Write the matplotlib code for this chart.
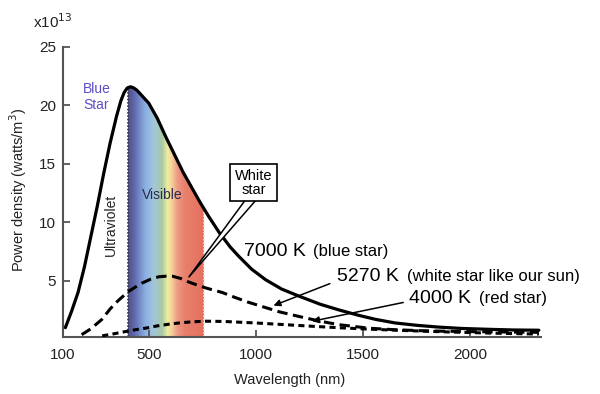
import numpy as np
import matplotlib
matplotlib.use("Agg")
import matplotlib.pyplot as plt
from matplotlib.colors import LinearSegmentedColormap
from matplotlib.patches import Polygon

plt.rcParams['font.family'] = ['Liberation Sans', 'DejaVu Sans']

# curves (wavelength nm, power density x1e13 W/m^3)
wl_7000 = [111, 140, 170, 200, 230, 260, 290, 320, 350, 370, 385, 400, 415, 430, 445,
           460, 500, 540, 580, 620, 660, 700, 740, 780, 830, 880, 920, 980, 1045, 1120,
           1200, 1300, 1390, 1480, 1560, 1650, 1750, 1850, 1960, 2100, 2200, 2320]
pd_7000 = [1.0, 2.4, 4.0, 6.2, 8.8, 11.4, 14.2, 16.8, 19.1, 20.4, 21.1, 21.5, 21.6,
           21.5, 21.3, 21.0, 20.2, 18.9, 17.3, 15.8, 14.3, 13.0, 11.7, 10.5, 9.1, 7.9,
           7.1, 6.0, 5.1, 4.3, 3.7, 3.0, 2.5, 2.05, 1.7, 1.4, 1.2, 1.05, 0.93, 0.85,
           0.8, 0.78]

wl_5270 = [187, 230, 281, 320, 345, 375, 406, 440, 467, 510, 547, 580, 610, 650,
           687, 725, 765, 844, 900, 960, 1030, 1110, 1202, 1300, 1389, 1528, 1650,
           1800, 2000, 2200, 2320]
pd_5270 = [0.4, 0.9, 1.7, 2.6, 3.1, 3.6, 4.1, 4.5, 4.8, 5.15, 5.35, 5.4, 5.4, 5.2,
           4.9, 4.65, 4.4, 4.0, 3.6, 3.2, 2.8, 2.35, 1.95, 1.55, 1.25, 0.95, 0.82,
           0.72, 0.66, 0.62, 0.6]

wl_4000 = [283, 330, 393, 440, 487, 540, 596, 650, 704, 767, 850, 1000, 1140, 1280,
           1400, 1528, 1700, 1900, 2100, 2320]
pd_4000 = [0.3, 0.45, 0.67, 0.83, 0.96, 1.15, 1.3, 1.42, 1.5, 1.55, 1.53, 1.4, 1.25,
           1.1, 0.98, 0.87, 0.75, 0.63, 0.53, 0.45]

visible = (405, 758)
spec_stops = [(0.0, '#4f4f84'), (0.10, '#6470b4'), (0.23, '#8cb0e2'), (0.34, '#a2c6da'),
              (0.45, '#aac8a4'), (0.52, '#eeee9e'), (0.57, '#f6d49e'), (0.65, '#ee9a84'),
              (0.75, '#e8806c'), (1.0, '#e47060')]

xticks = [100, 500, 1000, 1500, 2000]
yticks = [5, 10, 15, 20, 25]

fig = plt.figure(figsize=(6, 3.94), dpi=100)
ax = fig.add_axes([63 / 600, 1 - 337 / 394, 478 / 600, 290 / 394])
ax.set_xlim(100, 2330)
ax.set_ylim(0.2, 25)

# visible spectrum under the 7000 K curve
cmap = LinearSegmentedColormap.from_list('spec', spec_stops)
grad = np.linspace(0, 1, 256).reshape(1, -1)
im = ax.imshow(grad, cmap=cmap, aspect='auto', extent=[visible[0], visible[1], 0.2, 25],
               zorder=1)
clip = ax.fill_between(wl_7000, 0.2, pd_7000, facecolor='none', edgecolor='none')
im.set_clip_path(clip.get_paths()[0], transform=ax.transData)
top_l = np.interp(visible[0], wl_7000, pd_7000)
top_r = np.interp(visible[1], wl_7000, pd_7000)
ax.vlines(visible[0], 0.2, top_l, colors='#33334a', linestyles=(0, (1, 1)), lw=1.2, zorder=2)
ax.vlines(visible[1], 0.2, top_r, colors='#f4e4e0', linestyles=(0, (1, 1)), lw=1.2, zorder=2)

ax.plot(wl_7000, pd_7000, color='black', lw=2.3, zorder=4, solid_capstyle='round')
ax.plot(wl_5270, pd_5270, color='black', lw=2.2, ls=(0, (3.4, 1.8)), zorder=4)
ax.plot(wl_4000, pd_4000, color='black', lw=2.2, ls=(0, (2.0, 1.4)), zorder=4)

# spines & ticks
for s in ['top', 'right']:
    ax.spines[s].set_visible(False)
for s in ['left', 'bottom']:
    ax.spines[s].set_color('#555555')
    ax.spines[s].set_linewidth(1.5)
ax.set_xticks(xticks)
ax.set_yticks(yticks)
ax.tick_params(direction='in', length=5, width=1.3, color='#555555',
               labelsize=11, labelcolor='#222222')
ax.tick_params(axis='x', pad=8)
ax.tick_params(axis='y', pad=5)

ax.set_xlabel('Wavelength (nm)', fontsize=10.5, color='#222222')
ax.xaxis.set_label_coords(0.475, -0.125)
ax.set_ylabel('Power density (watts/m$^3$)', fontsize=10.5, color='#222222')
ax.yaxis.set_label_coords(-0.072, 0.507)
fig.text(33 / 600, 1 - 28 / 394, r'x10$^{13}$', fontsize=11, color='#222222',
         va='baseline')

# annotations
ax.text(194, 20.7, 'Blue\nStar', color='#5b4dc6', fontsize=10, ha='left', va='center',
        zorder=5)
ax.text(323, 9.8, 'Ultraviolet', rotation=90, fontsize=10, ha='center', va='center',
        color='#222222', zorder=5)
ax.text(563, 12.35, 'Visible', fontsize=10, ha='center', va='center', color='#2a2a50',
        zorder=5)

wedge = Polygon([(950, 11.9), (1000, 11.9), (686, 5.3)], closed=True, facecolor='white',
                edgecolor='black', lw=1.1, zorder=6)
ax.add_patch(wedge)
ax.text(989, 13.4, 'White\nstar', fontsize=10.5, ha='center', va='center', zorder=7,
        linespacing=1.0,
        bbox=dict(boxstyle='square,pad=0.3', facecolor='white', edgecolor='black', lw=1.2))

ax.text(946, 7.48, '7000 K', fontsize=14, ha='left', va='center', zorder=7)
ax.text(1265, 7.48, '(blue star)', fontsize=12, ha='left', va='center', zorder=7)
ax.text(1380, 5.37, '5270 K', fontsize=14, ha='left', va='center', zorder=7)
ax.text(1705, 5.37, '(white star like our sun)', fontsize=12, ha='left', va='center',
        zorder=7)
ax.text(1715, 3.46, '4000 K', fontsize=14, ha='left', va='center', zorder=7)
ax.text(2040, 3.46, '(red star)', fontsize=12, ha='left', va='center', zorder=7)

arrow = dict(arrowstyle='-|>', color='black', lw=1.1, mutation_scale=10)
ax.annotate('', xy=(1070, 2.8), xytext=(1357, 4.85), arrowprops=arrow, zorder=6)
ax.annotate('', xy=(1250, 1.5), xytext=(1700, 3.2), arrowprops=arrow, zorder=6)

fig.savefig('out.png', dpi=100, facecolor='white')
